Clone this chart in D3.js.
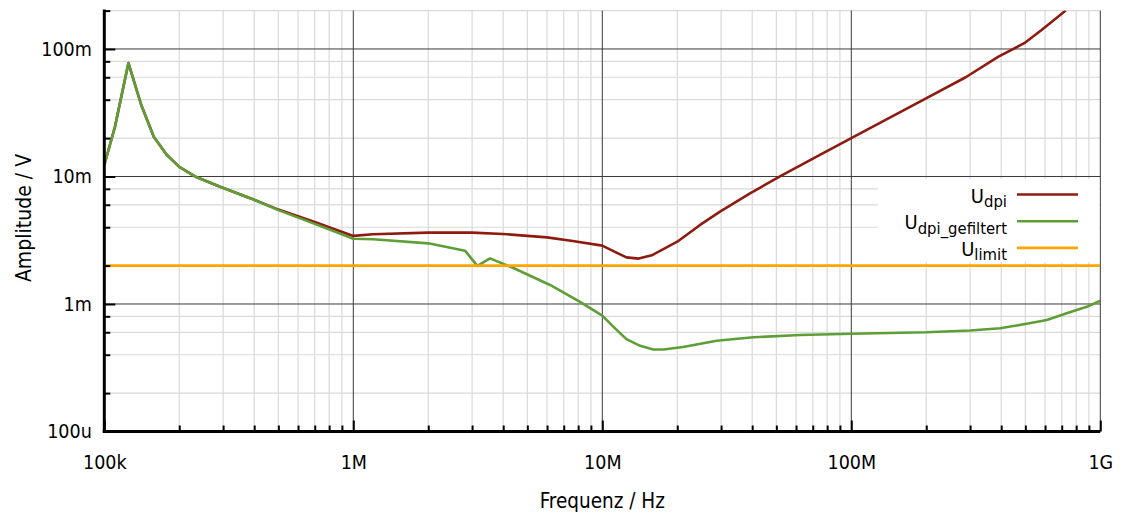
<!DOCTYPE html>
<html>
<head>
<meta charset="utf-8">
<script src="https://cdn.jsdelivr.net/npm/d3@7"></script>
<style>
  body { margin: 0; background: #fff; }
  svg { display: block; font-family: "DejaVu Sans Condensed", "DejaVu Sans", sans-serif; font-stretch: condensed; }
</style>
</head>
<body>
<svg width="1121" height="515"></svg>
<script>
// ---- data (frequency in Hz, amplitude in V) ----
var udpiFreq = [1e5, 1.104e5, 1.25e5, 1.41e5, 1.58e5, 1.78e5, 2e5, 2.34e5, 2.92e5, 3.9e5, 5e5, 7e5,
                1e6, 1.2e6, 2e6, 3e6, 4e6, 6e6, 7.6e6, 1e7, 1.14e7, 1.25e7, 1.4e7, 1.58e7, 2e7,
                2.47e7, 2.97e7, 3.92e7, 5.17e7, 7.48e7, 1e8, 1.97e8, 2.88e8, 3.9e8, 4.95e8, 5.81e8, 7.26e8];
var udpiAmp = [12.3e-3, 24.6e-3, 77.6e-3, 36e-3, 20.5e-3, 14.8e-3, 11.9e-3, 9.9e-3, 8.3e-3, 6.7e-3, 5.5e-3, 4.4e-3,
               3.42e-3, 3.52e-3, 3.63e-3, 3.63e-3, 3.54e-3, 3.33e-3, 3.12e-3, 2.87e-3, 2.53e-3, 2.32e-3, 2.27e-3, 2.41e-3, 3.08e-3,
               4.17e-3, 5.3e-3, 7.38e-3, 10e-3, 14.8e-3, 20e-3, 40.5e-3, 60e-3, 87e-3, 111e-3, 141e-3, 200e-3];

var filtFreq = [1e5, 1.104e5, 1.25e5, 1.41e5, 1.58e5, 1.78e5, 2e5, 2.34e5, 2.92e5, 3.9e5, 5e5, 7e5,
                1e6, 1.2e6, 2e6, 2.81e6, 3.15e6, 3.54e6, 4.33e6, 6.17e6, 8.14e6, 1e7, 1.12e7, 1.25e7, 1.42e7,
                1.6e7, 1.76e7, 2.11e7, 2.88e7, 4.04e7, 6.22e7, 1e8, 2e8, 3e8, 3.96e8, 5.06e8, 6.1e8, 7.33e8, 8.82e8, 1e9];
var filtAmp = [12.3e-3, 24.6e-3, 77.6e-3, 36e-3, 20.5e-3, 14.8e-3, 11.9e-3, 9.9e-3, 8.3e-3, 6.7e-3, 5.45e-3, 4.25e-3,
               3.25e-3, 3.22e-3, 2.99e-3, 2.62e-3, 1.99e-3, 2.28e-3, 1.94e-3, 1.41e-3, 1.04e-3, 0.81e-3, 0.65e-3, 0.53e-3, 0.47e-3,
               0.44e-3, 0.44e-3, 0.46e-3, 0.515e-3, 0.548e-3, 0.571e-3, 0.585e-3, 0.60e-3, 0.62e-3, 0.645e-3, 0.70e-3, 0.75e-3, 0.845e-3, 0.95e-3, 1.06e-3];

var limitFreq = [1e5, 1e9];
var limitAmp = [2e-3, 2e-3];

var xTicks = [1e5, 1e6, 1e7, 1e8, 1e9];
var xTickLabels = ["100k", "1M", "10M", "100M", "1G"];
var yTicks = [1e-4, 1e-3, 1e-2, 1e-1];
var yTickLabels = ["100u", "1m", "10m", "100m"];

var seriesNames = [["U", "dpi"], ["U", "dpi_gefiltert"], ["U", "limit"]];
var seriesColors = ["#8e1b10", "#5e9e37", "#ffa500"];

// ---- layout ----
var svg = d3.select("svg");
var pLeft = 104.3, pRight = 1100.3, pTop = 10.6, pBottom = 431.5;

var x = d3.scaleLog().domain([1e5, 1e9]).range([pLeft, pRight]);
var y = d3.scaleLog().domain([1e-4, 0.2]).range([pBottom, pTop]);

// minor tick values
var xMinor = [], yMinor = [];
xTicks.slice(0, -1).forEach(function(d){
  for (var k = 2; k <= 9; k++) xMinor.push(d * k);
});
yTicks.forEach(function(d){
  [2, 4, 6, 8].forEach(function(k){ if (d * k <= 0.2 + 1e-9) yMinor.push(d * k); });
});

// ---- grid ----
var grid = svg.append("g");
grid.selectAll(".vminor").data(xMinor).enter().append("line")
  .attr("x1", function(d){ return x(d); }).attr("x2", function(d){ return x(d); })
  .attr("y1", pTop).attr("y2", pBottom)
  .style("stroke", "#d9d9d9").style("stroke-width", 1.2);
grid.selectAll(".hminor").data(yMinor).enter().append("line")
  .attr("x1", pLeft).attr("x2", pRight)
  .attr("y1", function(d){ return y(d); }).attr("y2", function(d){ return y(d); })
  .style("stroke", "#d9d9d9").style("stroke-width", 1.2);
grid.selectAll(".vmajor").data(xTicks.slice(1)).enter().append("line")
  .attr("x1", function(d){ return x(d); }).attr("x2", function(d){ return x(d); })
  .attr("y1", pTop).attr("y2", pBottom)
  .style("stroke", "#3a3a3a").style("stroke-width", 1);
grid.selectAll(".hmajor").data(yTicks.slice(1)).enter().append("line")
  .attr("x1", pLeft).attr("x2", pRight)
  .attr("y1", function(d){ return y(d); }).attr("y2", function(d){ return y(d); })
  .style("stroke", "#3a3a3a").style("stroke-width", 1);

// ---- curves ----
svg.append("clipPath").attr("id", "plot").append("rect")
  .attr("x", pLeft).attr("y", pTop).attr("width", pRight - pLeft).attr("height", pBottom - pTop);

var line = d3.line()
  .x(function(d){ return x(d[0]); })
  .y(function(d){ return y(d[1]); });

var series = [
  d3.zip(udpiFreq, udpiAmp),
  d3.zip(filtFreq, filtAmp),
  d3.zip(limitFreq, limitAmp)
];

var curves = svg.append("g").attr("clip-path", "url(#plot)");
series.forEach(function(s, i){
  curves.append("path").datum(s)
    .attr("d", line)
    .style("fill", "none")
    .style("stroke", seriesColors[i])
    .style("stroke-width", 2.6)
    .style("stroke-linejoin", "round");
});

// ---- legend ----
var legend = svg.append("g");
legend.append("rect")
  .attr("x", 878).attr("y", 179).attr("width", pRight - 878 - 1).attr("height", 83)
  .style("fill", "#fff");
seriesNames.forEach(function(n, i){
  var ly = 194.5 + i * 26.7;
  var t = legend.append("text")
    .attr("x", 1007).attr("y", ly + 8)
    .attr("text-anchor", "end")
    .style("font-size", "20px");
  t.append("tspan").text(n[0]);
  t.append("tspan").attr("dy", 4.5).style("font-size", "16.5px").text(n[1]);
  legend.append("line")
    .attr("x1", 1017).attr("x2", 1078)
    .attr("y1", ly).attr("y2", ly)
    .style("stroke", seriesColors[i]).style("stroke-width", 2.6);
});

// ---- axes ----
var xAxisMinor = d3.axisBottom(x).tickValues(xMinor).tickFormat("").tickSizeInner(-6).tickSizeOuter(0);
var xAxis = d3.axisBottom(x).tickValues(xTicks)
  .tickFormat(function(d, i){ return xTickLabels[i]; })
  .tickSizeInner(-11).tickSizeOuter(0).tickPadding(24);
var yAxisMinor = d3.axisLeft(y).tickValues(yMinor).tickFormat("").tickSizeInner(-6).tickSizeOuter(0);
var yAxis = d3.axisLeft(y).tickValues(yTicks)
  .tickFormat(function(d, i){ return yTickLabels[i]; })
  .tickSizeInner(-11).tickSizeOuter(0).tickPadding(12.5);

function styleAxis(g){
  g.attr("font-family", null).attr("font-size", null);
  g.select(".domain").remove();
  g.selectAll(".tick line").style("stroke", "#000").style("stroke-width", 2);
  g.selectAll(".tick text").style("fill", "#000").style("font-size", "19.5px");
}

svg.append("g").attr("transform", "translate(0," + pBottom + ")").call(xAxisMinor).call(styleAxis);
svg.append("g").attr("transform", "translate(0," + pBottom + ")").call(xAxis).call(styleAxis);
svg.append("g").attr("transform", "translate(" + pLeft + ",0)").call(yAxisMinor).call(styleAxis);
svg.append("g").attr("transform", "translate(" + pLeft + ",0)").call(yAxis).call(styleAxis);

// thick axis lines
svg.append("line").attr("x1", pLeft).attr("x2", pLeft).attr("y1", pTop - 1).attr("y2", pBottom + 1.5)
  .style("stroke", "#000").style("stroke-width", 3);
svg.append("line").attr("x1", pLeft - 1.5).attr("x2", pRight).attr("y1", pBottom).attr("y2", pBottom)
  .style("stroke", "#000").style("stroke-width", 3);

// ---- axis titles ----
svg.append("text")
  .attr("x", (pLeft + pRight) / 2).attr("y", 508)
  .attr("text-anchor", "middle")
  .style("font-size", "20.5px")
  .text("Frequenz / Hz");
svg.append("text")
  .attr("transform", "translate(31,218) rotate(-90)")
  .attr("text-anchor", "middle")
  .style("font-size", "21px")
  .text("Amplitude / V");
</script>
</body>
</html>
